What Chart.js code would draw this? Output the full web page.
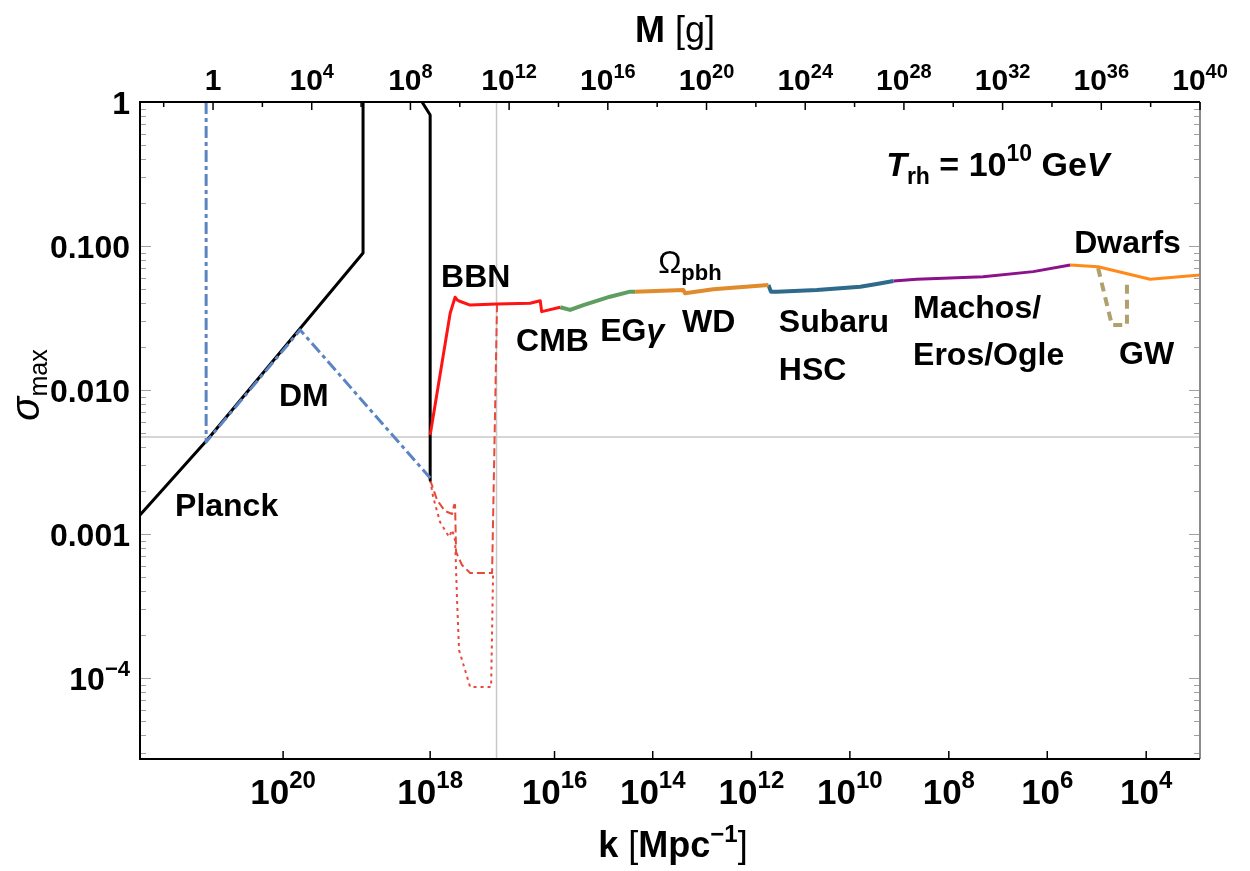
<!DOCTYPE html>
<html>
<head>
<meta charset="utf-8">
<title>sigma_max vs k</title>
<script src="https://cdn.jsdelivr.net/npm/chart.js@4.4.1/dist/chart.umd.min.js"></script>
<style>
  html, body { margin: 0; padding: 0; background: #fff; }
  #wrap { width: 1250px; height: 871px; }
</style>
</head>
<body>
<div id="wrap"><canvas id="sigmaChart" width="1250" height="871"></canvas></div>
<script>
// ============================
// Data: [log10 M/g, log10 sigma_max]
// ============================
const planck    = [[-2.96, -2.868], [-0.24, -2.347], [6.08, -1.049], [6.08, 0]];
const bbnBlack  = [[8.47, 0], [8.80, -0.090], [8.80, -2.625]];
const dm        = [[-0.28, 0], [-0.28, -2.361], [3.53, -1.583], [8.80, -2.611]];
const bbnRed    = [[8.80, -2.313], [9.61, -1.467], [9.81, -1.356], [9.90, -1.375], [9.97, -1.382],
                   [10.42, -1.410], [11.50, -1.403], [12.85, -1.398], [13.26, -1.380], [13.32, -1.456], [14.07, -1.425]];
const bbnDashed = [[8.80, -2.625], [9.08, -2.764], [9.40, -2.840], [9.69, -2.861], [9.77, -2.799], [9.81, -2.799],
                   [9.85, -3.125], [10.09, -3.215], [10.42, -3.271], [11.31, -3.271], [11.51, -1.403]];
const bbnDotted = [[8.80, -2.625], [8.92, -2.743], [9.20, -2.917], [9.57, -3.021], [9.69, -2.972], [9.81, -3.042],
                   [9.89, -3.458], [9.97, -3.806], [10.42, -4.0625], [11.27, -4.0625], [11.35, -3.271]];
const egGamma   = [[14.07, -1.425], [14.47, -1.444], [15.01, -1.410], [16.09, -1.352], [16.90, -1.317], [17.11, -1.317]];
const wd        = [[17.11, -1.317], [19.06, -1.306], [19.13, -1.328], [20.27, -1.301], [22.51, -1.271]];
const subaru    = [[22.51, -1.271], [22.61, -1.317], [22.85, -1.317], [24.47, -1.306], [26.23, -1.283], [26.90, -1.264], [27.58, -1.243]];
const machos    = [[27.58, -1.243], [28.52, -1.231], [31.21, -1.213], [33.24, -1.178], [34.74, -1.132]];
const dwarfs    = [[34.74, -1.132], [35.87, -1.144], [37.98, -1.231], [40.0, -1.201]];
const gw        = [[35.87, -1.153], [36.43, -1.549], [37.04, -1.549], [37.04, -1.236]];

// reference lines (log10 values)
const refLineM = 11.49;
const refLineSigma = -2.326;

// axis ranges (log10)
const xMinLog = -2.96, xMaxLog = 40;
const yMinLog = -4.5625, yMaxLog = 0;

// bottom axis: k ticks and the M they sit at
const kTickExp  = [20, 18, 16, 14, 12, 10, 8, 6, 4];
const kTickLogM = [2.84, 8.80, 13.84, 17.82, 21.82, 25.81, 29.82, 33.81, 37.82];
// top axis: M ticks
const mTickExp  = [0, 4, 8, 12, 16, 20, 24, 28, 32, 36, 40];
const mMinorExp = [-2, 2, 6, 10, 14, 18, 22, 26, 30, 34, 38];
// left axis
const sigmaTickExp    = [0, -1, -2, -3, -4];
const sigmaTickLabels = ["1", "0.100", "0.010", "0.001", "10^\u22124"];

const FONT = '"Liberation Sans", Arial, sans-serif';

// curve labels: anchor (left, baseline) in log10 data units
const curveLabels = [
  { at: [-1.54, -2.875], parts: [["Planck", "bold", 32, 0]] },
  { at: [2.67, -2.111],  parts: [["DM", "bold", 32, 0]] },
  { at: [9.24, -1.285],  parts: [["BBN", "bold", 32, 0]] },
  { at: [12.28, -1.729], parts: [["CMB", "bold", 32, 0]] },
  { at: [15.69, -1.660], parts: [["EG", "bold", 32, 0], ["\u03b3", "italic bold", 32, 0]] },
  { at: [18.04, -1.1875], parts: [["\u03a9", "", 31, 0], ["pbh", "bold", 22, 7]] },
  { at: [19.01, -1.597], parts: [["WD", "bold", 32, 0]] },
  { at: [22.93, -1.597], parts: [["Subaru", "bold", 32, 0]] },
  { at: [22.93, -1.931], parts: [["HSC", "bold", 32, 0]] },
  { at: [28.37, -1.500], parts: [["Machos/", "bold", 32, 0]] },
  { at: [28.37, -1.826], parts: [["Eros/Ogle", "bold", 32, 0]] },
  { at: [34.90, -1.049], parts: [["Dwarfs", "bold", 32, 0]] },
  { at: [36.72, -1.819], parts: [["GW", "bold", 32, 0]] },
  { at: [27.28, -0.514], parts: [["T", "italic bold", 34, 0], ["rh", "bold", 23, 8], [" = 10", "bold", 34, 0],
                                 ["10", "bold", 23, -15], [" Ge", "bold", 34, 0], ["V", "italic bold", 34, 0]] }
];

// ============================
// helpers
// ============================
function pts(arr) {
  return arr.map(p => ({ x: Math.pow(10, p[0]), y: Math.pow(10, p[1]) }));
}

function curve(data, color, width, dash) {
  return {
    data: pts(data),
    borderColor: color,
    borderWidth: width,
    borderDash: dash || [],
    borderJoinStyle: "round",
    pointRadius: 0,
    fill: false,
    tension: 0
  };
}

function font(style, size) {
  return (style ? style + " " : "") + size + "px " + FONT;
}

// draws text made of pieces with their own font and baseline shift
function drawRich(ctx, parts, x, y, align) {
  let w = 0;
  const m = parts.map(p => {
    ctx.font = font(p[1], p[2]);
    const pw = ctx.measureText(p[0]).width;
    w += pw;
    return pw;
  });
  let cx = align === "center" ? x - w / 2 : align === "right" ? x - w : x;
  parts.forEach((p, i) => {
    ctx.font = font(p[1], p[2]);
    ctx.fillText(p[0], cx, y + p[3]);
    cx += m[i];
  });
}

// "10^20" -> base + superscript
function powerParts(label, size, supSize, supDy) {
  const i = label.indexOf("^");
  if (i < 0) return [[label, "bold", size, 0]];
  return [[label.slice(0, i), "bold", size, 0], [label.slice(i + 1), "bold", supSize, supDy]];
}

// ============================
// frame, ticks, labels, titles
// ============================
const framePlugin = {
  id: "frame",
  afterDraw(chart) {
    const { ctx, chartArea: a, scales } = chart;
    const xs = scales.x, ys = scales.y;
    ctx.save();
    ctx.textAlign = "left";
    ctx.textBaseline = "alphabetic";
    ctx.fillStyle = "#000";

    // left / right minor + major ticks
    ctx.strokeStyle = "#a0a0a0";
    ctx.lineWidth = 1;
    for (let e = -5; e <= 0; e++) {
      for (let k = 1; k <= 9; k++) {
        const v = k * Math.pow(10, e);
        if (v < Math.pow(10, yMinLog) || v > 1.0000001) continue;
        const py = Math.round(ys.getPixelForValue(v)) + 0.5;
        const len = k === 1 ? 11 : 6;
        ctx.beginPath();
        ctx.moveTo(a.left, py); ctx.lineTo(a.left + len, py);
        ctx.moveTo(a.right, py); ctx.lineTo(a.right - len, py);
        ctx.stroke();
      }
    }

    // frame
    ctx.lineWidth = 2;
    ctx.strokeStyle = "#8c8c8c";
    ctx.beginPath(); ctx.moveTo(a.right, a.top); ctx.lineTo(a.right, a.bottom); ctx.stroke();
    ctx.strokeStyle = "#000";
    ctx.beginPath();
    ctx.moveTo(a.right, a.top); ctx.lineTo(a.left, a.top); ctx.lineTo(a.left, a.bottom); ctx.lineTo(a.right, a.bottom);
    ctx.stroke();

    // bottom ticks (k)
    ctx.lineWidth = 1.5;
    kTickLogM.forEach((lm, i) => {
      const px = xs.getPixelForValue(Math.pow(10, lm));
      ctx.beginPath(); ctx.moveTo(px, a.bottom); ctx.lineTo(px, a.bottom - 8); ctx.stroke();
      drawRich(ctx, powerParts("10^" + kTickExp[i], 35, 24, -16), px, a.bottom + 45, "center");
    });

    // top ticks (M)
    mMinorExp.forEach(e => {
      const px = xs.getPixelForValue(Math.pow(10, e));
      if (px < a.left) return;
      ctx.beginPath(); ctx.moveTo(px, a.top); ctx.lineTo(px, a.top + 5); ctx.stroke();
    });
    mTickExp.forEach(e => {
      const px = xs.getPixelForValue(Math.pow(10, e));
      ctx.beginPath(); ctx.moveTo(px, a.top); ctx.lineTo(px, a.top + 8); ctx.stroke();
      const label = e === 0 ? "1" : "10^" + e;
      drawRich(ctx, powerParts(label, 30, 20, -12), px, a.top - 12, "center");
    });

    // left labels
    sigmaTickExp.forEach((e, i) => {
      const py = ys.getPixelForValue(Math.pow(10, e));
      drawRich(ctx, powerParts(sigmaTickLabels[i], 32, 22, -14), a.left - 10, py + 12, "right");
    });

    // axis titles
    drawRich(ctx, [["M", "bold", 36, 0], [" [g]", "", 36, 0]], 675, 42, "center");
    drawRich(ctx, [["k", "bold", 36, 0], [" [", "", 36, 0], ["Mpc", "bold", 36, 0],
                   ["\u22121", "bold", 24, -15], ["]", "", 36, 0]], 673, 857, "center");
    ctx.save();
    ctx.translate(39, 385);
    ctx.rotate(-Math.PI / 2);
    drawRich(ctx, [["\u03c3", "italic", 40, 0], ["max", "", 25, 8]], 0, 0, "center");
    ctx.restore();

    // curve labels
    curveLabels.forEach(l => {
      const px = xs.getPixelForValue(Math.pow(10, l.at[0]));
      const py = ys.getPixelForValue(Math.pow(10, l.at[1]));
      drawRich(ctx, l.parts, px, py, "left");
    });

    ctx.restore();
  }
};

// ============================
// chart
// ============================
const datasets = [
  curve(dm, "#5b84c2", 3, [12, 4, 4, 4]),
  curve(bbnRed, "#ff1414", 3),
  curve(egGamma, "#5f9e5f", 4),
  curve(wd, "#e08b2c", 4),
  curve(subaru, "#2e6b8a", 4),
  curve(machos, "#8b128b", 3),
  curve(dwarfs, "#ff8a1a", 3),
  curve(gw, "#b0a06c", 4, [9, 6]),
  curve(planck, "#000", 3),
  curve(bbnBlack, "#000", 3),
  curve(bbnDashed, "#e8493a", 2, [8, 4]),
  curve(bbnDotted, "#e8493a", 2, [3, 4]),
  curve([[refLineM, yMinLog], [refLineM, yMaxLog]], "#c8c8c8", 1.5),
  curve([[xMinLog, refLineSigma], [xMaxLog, refLineSigma]], "#c8c8c8", 1.5)
];

const ctx = document.getElementById("sigmaChart").getContext("2d");
new Chart(ctx, {
  type: "line",
  data: { datasets },
  options: {
    responsive: false,
    animation: false,
    devicePixelRatio: 1,
    layout: { padding: { left: 0, right: 50, top: 0, bottom: 0 } },
    plugins: { legend: { display: false }, tooltip: { enabled: false } },
    scales: {
      x: {
        type: "logarithmic",
        position: "bottom",
        min: Math.pow(10, xMinLog),
        max: Math.pow(10, xMaxLog),
        grid: { display: false },
        border: { display: false },
        ticks: { display: false },
        afterBuildTicks: axis => { axis.ticks = kTickLogM.map(v => ({ value: Math.pow(10, v) })); },
        afterFit: axis => { axis.height = 112; }
      },
      x2: {
        type: "logarithmic",
        position: "top",
        min: Math.pow(10, xMinLog),
        max: Math.pow(10, xMaxLog),
        grid: { display: false },
        border: { display: false },
        ticks: { display: false },
        afterFit: axis => { axis.height = 102; }
      },
      y: {
        type: "logarithmic",
        position: "left",
        min: Math.pow(10, yMinLog),
        max: Math.pow(10, yMaxLog),
        grid: { display: false },
        border: { display: false },
        ticks: { display: false },
        afterFit: axis => { axis.width = 140; }
      }
    }
  },
  plugins: [framePlugin]
});
</script>
</body>
</html>
